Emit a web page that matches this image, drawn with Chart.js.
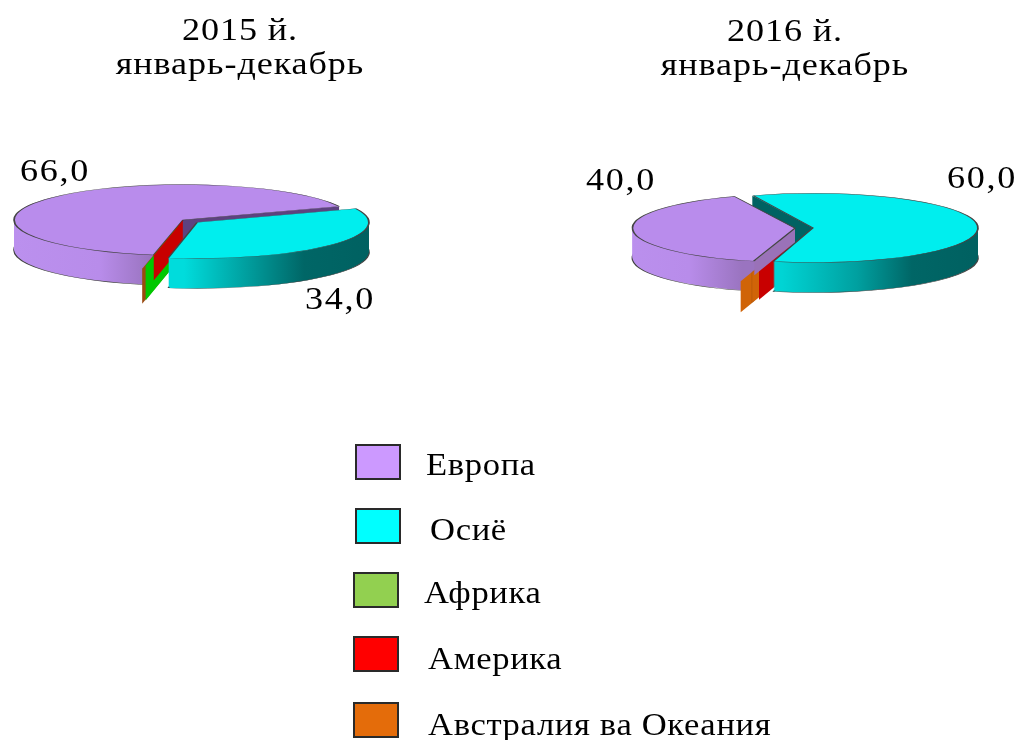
<!DOCTYPE html>
<html><head><meta charset="utf-8">
<script src="https://cdn.jsdelivr.net/npm/chart.js@4"></script>
<style>
html,body{margin:0;padding:0;background:#fff;width:1021px;height:740px;overflow:hidden}
#page{position:relative;width:1021px;height:740px;filter:blur(.6px)}
canvas{position:absolute;top:0}
.sw{position:absolute;box-sizing:border-box;border:2px solid #2a2a2a}
.lb{position:absolute;font:31px "Liberation Serif",serif;letter-spacing:.6px;color:#000;white-space:nowrap;line-height:30px;transform:scaleX(1.115);transform-origin:0 50%}
</style></head><body>
<div id="page">
<canvas id="a" width="510" height="340" style="left:0;width:510px;height:340px"></canvas>
<canvas id="b" width="511" height="340" style="left:510px;width:511px;height:340px"></canvas>
</div>
<script>
// ---- data ----
const categories=["Европа","Осиё","Африка","Америка","Австралия ва Океания"];
const values2015=[66.0,34.0,0.02,0.03,0.01];
const values2016=[40.0,60.0,0.01,0.03,0.02];
const title2015=["2015 й.","январь-декабрь"];
const title2016=["2016 й.","январь-декабрь"];
const legendColors=["#cc99ff","#00ffff","#92d050","#ff0000","#e46c0a"];
// ---- styling / layout ----
const topColors=["#b98cec","#00eeee","#00c800","#c80000","#b85a10"];
const legendBoxes=[[355,444],[355,508],[353,572],[353,636],[353,702]];
const legendText=[[426,450],[430,515],[424,578],[428,644],[428,710]];
const fmt=v=>v.toFixed(1).replace('.',',');
const ratio=0.21;

const pies=[
 {id:'a',left:0,values:values2015,title:title2015,titleX:240,titleY:[32,66],cx:183,cy:220,r:169,rotation:190,
  offsets:[0,72,102,4,134],
  steps:[[0,'rim'],[0,'wall'],[0,'top'],[4,'wall'],[4,'top'],[2,'wall'],[2,'top'],[3,'wall'],[3,'top'],[1,'rim'],[1,'top']],
  rimDepth:30,edgeDepth:[30,30,35,25,35],rimClip:[null,null],
  rim:[[[13,'#bb90ee'],[100,'#b88cea'],[150,'#9a74c0']],[[170,'#00dcdc'],[225,'#00a6a6'],[290,'#006666'],[368,'#006060']]],
  walls:{0:'#5d4280',2:'#00c800',3:'#c80000',4:'#9a4a10'},
  labels:[[55,173],[340,301]]},
 {id:'b',left:510,values:values2016,title:title2016,titleX:785,titleY:[33,67],cx:806,cy:228,r:158,rotation:194.5,
  offsets:[44,28,120,64,208],
  steps:[[0,'rim'],[4,'wall'],[4,'top'],[2,'wall'],[2,'top'],[3,'wall'],[3,'top'],[1,'rim'],[1,'wall'],[1,'top'],[0,'wall'],[0,'top']],
  rimDepth:30,edgeDepth:[14,30,30,33,31],rimClip:[[0,756],null],
  rim:[[[633,'#bb90ee'],[700,'#b88cea'],[753,'#9a74c0']],[[775,'#00d4d4'],[850,'#00a0a0'],[905,'#006666'],[977,'#006060']]],
  walls:{0:'#9a72b8',1:'#006262',2:'#d06408',3:'#c80000',4:[[743,'#d06408'],[751,'#d06408'],[753,'#9c4a06'],[755,'#d06408'],[760,'#d06408']]},
  labels:[[621,182],[982,180]]}
];

function withOptions(arc,patch,fn){
  const saved=arc.options,o=Object.create(saved);
  Object.assign(o,patch);arc.options=o;fn();arc.options=saved;
}
function gradient(ctx,p,arc,stops){
  const toUser=x=>x-p.cx+arc.x;
  const g=ctx.createLinearGradient(toUser(stops[0][0]),0,toUser(stops[stops.length-1][0]),0);
  const a=stops[0][0],b=stops[stops.length-1][0];
  stops.forEach(s=>g.addColorStop((s[0]-a)/(b-a),s[1]));
  return g;
}
function edgeWall(ctx,arc,angle,depth,fill){
  const o=(arc.options.offset||0)/4;
  const mid=(arc.startAngle+arc.endAngle)/2;
  const fix=1-Math.sin(Math.min(Math.PI,arc.circumference||0));
  const R=arc.outerRadius+o*fix;
  const ax=arc.x+Math.cos(mid)*o, ay=arc.y+Math.sin(mid)*o;
  const px=ax+Math.cos(angle)*R, py=ay+Math.sin(angle)*R;
  const d=depth/ratio;
  ctx.beginPath();ctx.moveTo(ax,ay);ctx.lineTo(px,py);ctx.lineTo(px,py+d);ctx.lineTo(ax,ay+d);ctx.closePath();
  ctx.fillStyle=fill;ctx.fill();
}
function stretchedText(ctx,text,x,y){
  ctx.save();ctx.translate(x,y);ctx.scale(1.13,1);ctx.fillText(text,0,0);ctx.restore();
}
const pie3d={
 id:'pie3d',
 beforeDatasetsDraw(chart,_,opts){
  const p=opts.pie,ctx=chart.ctx,arcs=chart.getDatasetMeta(0).data;
  const base=arcs[0];
  ctx.save();
  ctx.translate(p.cx-p.left,p.cy);ctx.scale(1,ratio);ctx.translate(-base.x,-base.y);
  p.steps.forEach(([i,phase])=>{
   const arc=arcs[i],big=p.values[i]>=1;
   if(phase==='rim'){
    const fill=gradient(ctx,p,arc,p.rim[i]);
    ctx.save();
    const c=p.rimClip[i];
    if(c){ctx.beginPath();ctx.rect(c[0]-p.cx+arc.x,-5000,c[1]-c[0],10000);ctx.clip();}
    for(let k=p.rimDepth;k>=1;k--){
     ctx.save();ctx.translate(0,k/ratio);
     withOptions(arc,{backgroundColor:fill,borderWidth:k===p.rimDepth?1.8:0,borderColor:'#444'},()=>arc.draw(ctx));
     ctx.restore();
    }
    ctx.restore();
   }else if(phase==='wall'){
    const wall=p.walls[i];
    if(wall){
     const depth=p.edgeDepth[i];
     const fill=Array.isArray(wall)?gradient(ctx,p,arc,wall):wall;
     if(Math.cos(arc.startAngle)<0)edgeWall(ctx,arc,arc.startAngle,depth,fill);
     if(big&&Math.cos(arc.endAngle)>0)edgeWall(ctx,arc,arc.endAngle,depth,fill);
    }
   }else{
    withOptions(arc,{borderWidth:big?1.8:0,borderColor:'#444'},()=>arc.draw(ctx));
   }
  });
  ctx.restore();
  return false;
 },
 afterDraw(chart,_,opts){
  const p=opts.pie,ctx=chart.ctx;
  ctx.save();
  ctx.fillStyle='#000';ctx.textAlign='center';ctx.textBaseline='middle';
  ctx.font='32px "Liberation Serif", serif';ctx.letterSpacing='.8px';
  p.title.forEach((t,i)=>stretchedText(ctx,t,p.titleX-p.left,p.titleY[i]));
  ctx.letterSpacing='1.5px';
  p.labels.forEach((l,i)=>stretchedText(ctx,fmt(p.values[i]),l[0]-p.left,l[1]));
  ctx.restore();
 }
};
pies.forEach(p=>{
 new Chart(document.getElementById(p.id),{
  type:'pie',
  data:{labels:categories,datasets:[{data:p.values,backgroundColor:topColors,offset:p.offsets,borderWidth:0}]},
  options:{responsive:false,animation:false,events:[],radius:p.r,rotation:p.rotation,
   plugins:{legend:{display:false},tooltip:{enabled:false},pie3d:{pie:p}}},
  plugins:[pie3d]
 });
});
const page=document.getElementById('page');
categories.forEach((c,i)=>{
 const s=document.createElement('div');s.className='sw';
 s.style.cssText=`left:${legendBoxes[i][0]}px;top:${legendBoxes[i][1]}px;width:46px;height:36px;background:${legendColors[i]}`;
 page.appendChild(s);
 const t=document.createElement('div');t.className='lb';t.textContent=c;
 t.style.left=legendText[i][0]+'px';t.style.top=legendText[i][1]+'px';
 page.appendChild(t);
});
</script>
</body></html>
